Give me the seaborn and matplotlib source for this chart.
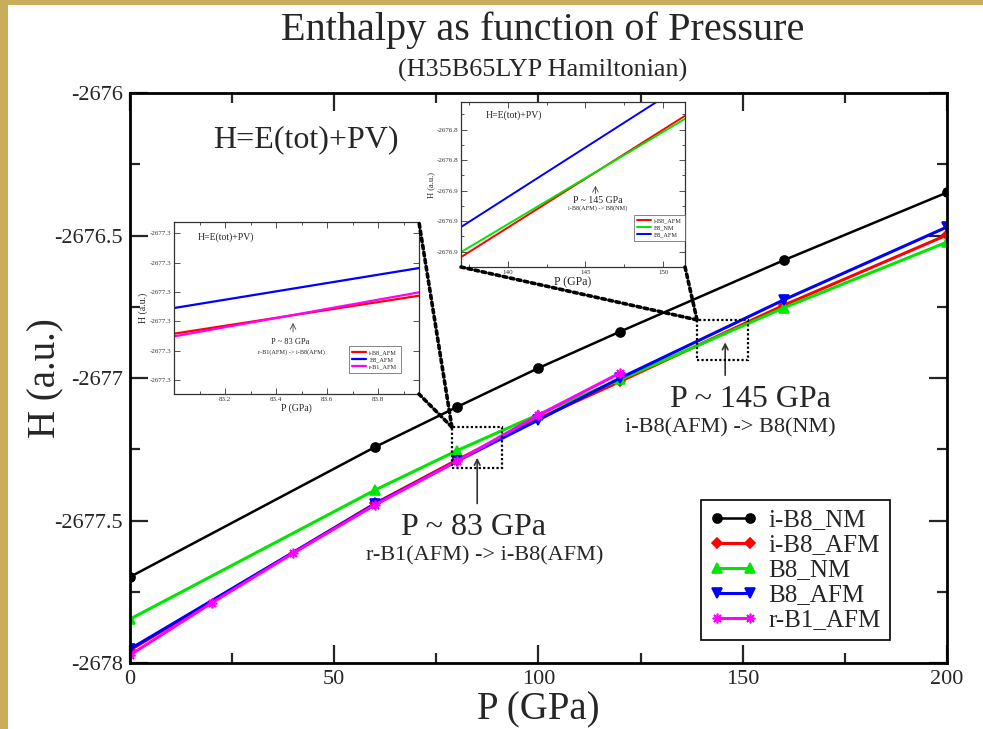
import matplotlib
matplotlib.use("Agg")
import matplotlib.pyplot as plt
import seaborn as sns
from matplotlib.patches import Rectangle, ConnectionPatch
from matplotlib.ticker import MultipleLocator, FixedLocator, FuncFormatter, FormatStrFormatter

# ---------------- data ----------------
pressure = [0, 60, 80, 100, 120, 160, 200]
pressure_rb1 = [0, 20, 40, 60, 80, 100, 120]

h_ib8_nm = [-2677.698, -2677.242, -2677.102, -2676.965, -2676.837, -2676.587, -2676.349]
h_ib8_afm = [-2677.955, -2677.440, -2677.288, -2677.142, -2677.012, -2676.745, -2676.498]
h_b8_nm = [-2677.846, -2677.393, -2677.255, -2677.128, -2677.005, -2676.754, -2676.523]
h_b8_afm = [-2677.951, -2677.442, -2677.292, -2677.147, -2677.000, -2676.726, -2676.470]
h_rb1_afm = [-2677.972, -2677.789, -2677.614, -2677.445, -2677.292, -2677.130, -2676.982]

labels = ["i-B8_NM", "i-B8_AFM", "B8_NM", "B8_AFM", "r-B1_AFM"]
colors = ["black", "#ff0000", "#00e600", "#0000ff", "#ff00ff"]
markers = ["o", "D", "^", "v", (8, 2, 0)]

# zoom window around 83 GPa
inset1_p = [83.0, 83.96]
inset1_ticks = [83.2, 83.4, 83.6, 83.8]
inset1_ib8_afm = [-2677.30712, -2677.30065]
inset1_b8_afm = [-2677.30275, -2677.29594]
inset1_rb1_afm = [-2677.30758, -2677.30008]

# zoom window around 145 GPa
inset2_p = [137.0, 151.4]
inset2_ib8_afm = [-2676.9035, -2676.8110]
inset2_b8_nm = [-2676.9002, -2676.8130]
inset2_b8_afm = [-2676.8838, -2676.7900]

# dotted boxes on the main plot (x0, x1, y0, y1)
box1 = [78.8, 91.1, -2677.316, -2677.172]
box2 = [138.8, 151.3, -2676.937, -2676.796]

# ---------------- style ----------------
sns.set_style("ticks")
plt.rcParams["font.family"] = ["Liberation Serif", "DejaVu Serif"]
plt.rcParams["axes.unicode_minus"] = False

fig = plt.figure(figsize=(9.83, 7.29), dpi=100)
fig.patch.set_facecolor("white")

# gold frame strips
gold = "#c9ac5c"
fig.add_artist(Rectangle((0, 0), 8 / 983, 1, transform=fig.transFigure,
                         facecolor=gold, edgecolor="none", zorder=0))
fig.add_artist(Rectangle((0, 1 - 5 / 729), 1, 5 / 729, transform=fig.transFigure,
                         facecolor=gold, edgecolor="none", zorder=0))

ax = fig.add_axes([0.1322, 0.0905, 0.8312, 0.7819])

main_x = [pressure, pressure, pressure, pressure, pressure_rb1]
main_y = [h_ib8_nm, h_ib8_afm, h_b8_nm, h_b8_afm, h_rb1_afm]
marker_sizes = [6.5, 5.5, 7, 7, 7]
line_widths = [1.8, 2.2, 2.2, 2.2, 2.2]
for lab, xs, ys, c, m, ms, lw in zip(labels, main_x, main_y, colors, markers,
                                     marker_sizes, line_widths):
    sns.lineplot(x=xs, y=ys, ax=ax, color=c, marker=m, markersize=ms,
                 markeredgecolor=c, markeredgewidth=1.2, linewidth=lw,
                 label=lab, estimator=None, sort=False)

ax.set_xlim(0, 200)
ax.set_ylim(-2678, -2676)
ax.xaxis.set_major_locator(MultipleLocator(50))
ax.xaxis.set_minor_locator(MultipleLocator(25))
ax.yaxis.set_major_locator(MultipleLocator(0.5))
ax.yaxis.set_minor_locator(MultipleLocator(0.25))
ax.yaxis.set_major_formatter(FuncFormatter(lambda v, p: f"{v:g}"))
ax.tick_params(which="both", direction="in", top=True, right=True, width=1.6,
               labelsize=16, pad=5)
ax.tick_params(which="major", length=13)
ax.tick_params(which="minor", length=7)
for s in ax.spines.values():
    s.set_linewidth(2.0)
    s.set_color("black")
ax.set_xlabel("P (GPa)", fontsize=28, labelpad=2)
ax.set_ylabel("H (a.u.)", fontsize=28, labelpad=-7)

leg = ax.legend(loc="lower right", bbox_to_anchor=(0.930, 0.040), fontsize=18,
                numpoints=2, handlelength=1.9, handletextpad=0.45, labelspacing=0.1,
                borderpad=0.35, borderaxespad=0, fancybox=False, framealpha=1)
leg.get_frame().set_edgecolor("black")
leg.get_frame().set_linewidth(1.2)

fig.text(0.552, 0.958, "Enthalpy as function of Pressure", ha="center", va="center",
         fontsize=29)
fig.text(0.552, 0.904, "(H35B65LYP Hamiltonian)", ha="center", va="center", fontsize=18.8)

ax.text(20.3, -2676.165, "H=E(tot)+PV)", fontsize=23, ha="left", va="center")

# transition annotations
ax.annotate("", xy=(85.0, -2677.27), xytext=(85.0, -2677.45),
            arrowprops=dict(arrowstyle="->", color="#333333", lw=1.2))
ax.text(84.0, -2677.525, "P ~ 83 GPa", fontsize=23, ha="center", va="center")
ax.text(86.9, -2677.625, "r-B1(AFM) -> i-B8(AFM)", fontsize=16, ha="center", va="center")

ax.annotate("", xy=(145.7, -2676.865), xytext=(145.7, -2677.0),
            arrowprops=dict(arrowstyle="->", color="#333333", lw=1.2))
ax.text(151.8, -2677.075, "P ~ 145 GPa", fontsize=23, ha="center", va="center")
ax.text(146.9, -2677.175, "i-B8(AFM) -> B8(NM)", fontsize=16, ha="center", va="center")

for b in (box1, box2):
    ax.add_patch(Rectangle((b[0], b[2]), b[1] - b[0], b[3] - b[2], fill=False,
                           edgecolor="black", linestyle=(0, (1, 1)), linewidth=1.6,
                           zorder=5))


def style_inset(ia, fs):
    for s in ia.spines.values():
        s.set_linewidth(0.9)
        s.set_color("#333333")
    ia.tick_params(which="both", direction="in", top=True, right=True, width=0.6,
                   labelsize=fs, pad=2, colors="#333333")
    ia.tick_params(which="major", length=4)
    ia.tick_params(which="minor", length=2)


# ---- inset near 83 GPa ----
ins1 = fig.add_axes([0.1770, 0.4595, 0.2492, 0.2359])
ins1.set_facecolor("white")
for ys, lab, c in zip([inset1_ib8_afm, inset1_b8_afm, inset1_rb1_afm],
                      ["i-B8_AFM", "B8_AFM", "r-B1_AFM"],
                      [colors[1], colors[3], colors[4]]):
    sns.lineplot(x=inset1_p, y=ys, ax=ins1, color=c, linewidth=1.6, label=lab,
                 estimator=None, sort=False)
ins1.set_xlim(inset1_p[0], inset1_p[1])
ins1.set_ylim(-2677.3174, -2677.2881)
ins1.xaxis.set_major_locator(FixedLocator(inset1_ticks))
ins1.xaxis.set_minor_locator(MultipleLocator(0.1))
ins1.xaxis.set_major_formatter(FormatStrFormatter("%.1f"))
ins1.yaxis.set_major_locator(MultipleLocator(0.005))
ins1.yaxis.set_major_formatter(FormatStrFormatter("%.1f"))
style_inset(ins1, 5)
ins1.set_xlabel("P (GPa)", fontsize=7, labelpad=1)
ins1.set_ylabel("H (a.u.)", fontsize=7, labelpad=1)
ins1.text(0.098, 0.913, "H=E(tot)+PV)", transform=ins1.transAxes, fontsize=7,
          ha="left", va="center")
ins1.annotate("", xy=(0.486, 0.43), xytext=(0.486, 0.345), xycoords="axes fraction",
              arrowprops=dict(arrowstyle="->", color="#444444", lw=0.6))
ins1.text(0.473, 0.30, "P ~ 83 GPa", transform=ins1.transAxes, fontsize=6,
          ha="center", va="center")
ins1.text(0.48, 0.245, "r-B1(AFM) -> i-B8(AFM)", transform=ins1.transAxes, fontsize=4.5,
          ha="center", va="center")
lg1 = ins1.legend(loc="lower right", bbox_to_anchor=(0.925, 0.125), fontsize=4.5,
                  handlelength=2.2, handletextpad=0.5, labelspacing=0.3, borderpad=0.5,
                  borderaxespad=0, fancybox=False, framealpha=1)
lg1.get_frame().set_edgecolor("#555555")
lg1.get_frame().set_linewidth(0.5)

# ---- inset near 145 GPa ----
ins2 = fig.add_axes([0.4690, 0.6337, 0.2279, 0.2263])
ins2.set_facecolor("white")
for ys, lab, c in zip([inset2_ib8_afm, inset2_b8_nm, inset2_b8_afm],
                      ["i-B8_AFM", "B8_NM", "B8_AFM"],
                      [colors[1], colors[2], colors[3]]):
    sns.lineplot(x=inset2_p, y=ys, ax=ins2, color=c, linewidth=1.4, label=lab,
                 estimator=None, sort=False)
ins2.set_xlim(inset2_p[0], inset2_p[1])
ins2.set_ylim(-2676.910, -2676.802)
ins2.xaxis.set_major_locator(MultipleLocator(5))
ins2.xaxis.set_minor_locator(MultipleLocator(2.5))
ins2.yaxis.set_major_locator(MultipleLocator(0.02))
ins2.yaxis.set_minor_locator(MultipleLocator(0.01))
ins2.yaxis.set_major_formatter(FormatStrFormatter("%.1f"))
style_inset(ins2, 5)
ins2.set_xlabel("P (GPa)", fontsize=8.5, labelpad=1)
ins2.set_ylabel("H (a.u.)", fontsize=6, labelpad=1)
ins2.text(0.112, 0.921, "H=E(tot)+PV)", transform=ins2.transAxes, fontsize=7,
          ha="left", va="center")
ins2.annotate("", xy=(0.60, 0.51), xytext=(0.60, 0.43), xycoords="axes fraction",
              arrowprops=dict(arrowstyle="->", color="#444444", lw=0.6))
ins2.text(0.609, 0.405, "P ~ 145 GPa", transform=ins2.transAxes, fontsize=7,
          ha="center", va="center")
ins2.text(0.609, 0.357, "i-B8(AFM) -> B8(NM)", transform=ins2.transAxes, fontsize=4.5,
          ha="center", va="center")
lg2 = ins2.legend(loc="lower right", bbox_to_anchor=(1.0, 0.16), fontsize=4.5,
                  handlelength=2.2, handletextpad=0.5, labelspacing=0.3, borderpad=0.5,
                  borderaxespad=0, fancybox=False, framealpha=1)
lg2.get_frame().set_edgecolor("#555555")
lg2.get_frame().set_linewidth(0.5)

# thick dotted connectors from the dotted boxes to the insets
conn_style = dict(color="black", linestyle=(0, (1, 1)), linewidth=2.6, zorder=10)
for corner in [(1, 1), (1, 0)]:
    fig.add_artist(ConnectionPatch(xyA=(box1[0], box1[3]), coordsA=ax.transData,
                                   xyB=corner, coordsB=ins1.transAxes, **conn_style))
for corner in [(0, 0), (1, 0)]:
    fig.add_artist(ConnectionPatch(xyA=(box2[0], box2[3]), coordsA=ax.transData,
                                   xyB=corner, coordsB=ins2.transAxes, **conn_style))

fig.savefig("out.png", dpi=100, facecolor="white")
